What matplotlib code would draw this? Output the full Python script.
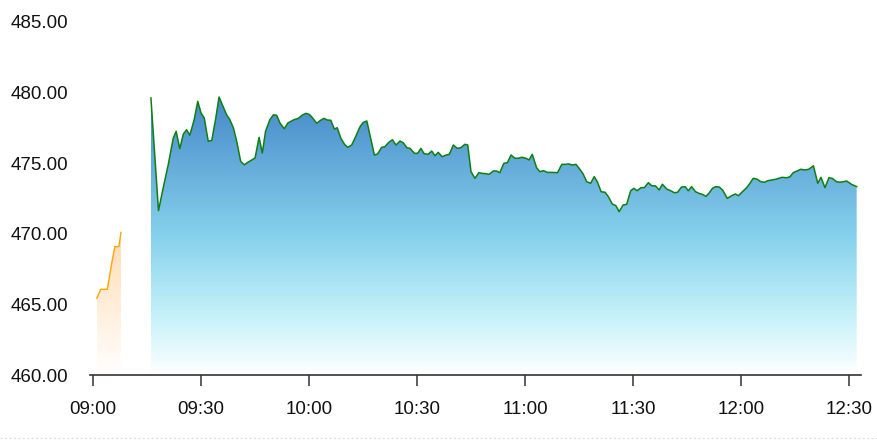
import numpy as np
import matplotlib
matplotlib.use("Agg")
import matplotlib.pyplot as plt
from matplotlib.colors import LinearSegmentedColormap
from matplotlib.lines import Line2D

# minutes after 09:00
pre_t = [1.2, 2.3, 4.1, 5.4, 6.2, 7.3, 7.9]
pre_v = [465.43, 466.07, 466.07, 468.02, 469.09, 469.09, 470.10]

main_t = [16.2, 18.3, 19.6, 21.0, 22.4, 23.2, 24.2, 25.2, 26.1, 27.0, 28.2, 29.2, 30.1, 31.0,
          32.1, 33.1, 34.2, 35.1, 36.3, 37.2, 38.1, 39.1, 40.0, 41.1, 42.1, 43.2, 44.2, 45.1,
          46.2, 47.1, 48.0, 49.2, 50.2, 51.1, 52.0, 53.2, 54.2, 55.7, 57.1, 58.2, 59.2, 60.1,
          61.0, 62.2, 63.1, 64.2, 65.1, 66.1, 67.1, 67.9, 68.9, 69.9, 70.8, 71.9, 73.0, 74.2,
          75.1, 76.1, 78.2, 79.1, 80.2, 81.1, 82.2, 83.2, 84.2, 85.3, 86.2, 87.2, 88.1, 89.3,
          90.2, 91.1, 92.0, 93.1, 94.1, 95.0, 95.9, 97.0, 98.1, 99.0, 100.1, 101.2, 102.2,
          103.3, 104.1, 105.0, 106.1, 107.2, 108.1, 109.1, 110.0, 111.2, 112.1, 113.0, 114.1,
          115.1, 116.1, 117.2, 118.1, 119.1, 120.2, 121.1, 122.0, 123.2, 124.1, 125.1, 126.2,
          127.4, 129.0, 130.2, 131.2, 132.1, 133.1, 134.1, 135.0, 136.1, 137.1, 138.2, 139.2,
          140.1, 141.1, 142.2, 143.1, 144.2, 145.2, 146.1, 147.2, 148.2, 149.3, 150.2, 151.1,
          152.2, 153.1, 154.2, 155.1, 156.2, 157.2, 158.1, 159.3, 160.4, 161.4, 162.3, 163.4,
          164.4, 165.3, 166.2, 167.3, 168.3, 169.2, 170.2, 171.1, 172.0, 172.9, 173.9, 174.8,
          176.1, 177.2, 178.3, 179.2, 180.3, 181.5, 182.4, 183.3, 184.3, 185.4, 186.4, 187.3,
          188.4, 189.5, 190.4, 191.3, 192.6, 193.5, 194.4, 195.6, 196.5, 197.6, 198.7, 200.0,
          201.2, 202.1, 203.2, 204.3, 205.2, 206.4, 207.3, 208.3, 209.2, 210.6, 212.0]
main_v = [479.62, 471.64, 473.24, 474.89, 476.78, 477.26, 476.03, 477.07, 477.37, 476.98,
          478.08, 479.38, 478.56, 478.20, 476.55, 476.62, 478.20, 479.69, 478.96, 478.43,
          478.08, 477.49, 476.55, 475.13, 474.89, 475.08, 475.23, 475.37, 476.83, 475.72,
          477.26, 478.08, 478.43, 478.39, 477.85, 477.44, 477.85, 478.06, 478.18, 478.41,
          478.53, 478.46, 478.22, 477.83, 478.01, 478.18, 478.06, 478.04, 477.42, 477.51,
          476.76, 476.34, 476.12, 476.29, 476.88, 477.58, 477.89, 477.99, 475.58, 475.65,
          476.12, 476.17, 476.48, 476.66, 476.29, 476.57, 476.45, 476.10, 476.05, 475.70,
          475.70, 476.05, 475.67, 475.63, 475.86, 475.53, 475.77, 475.46, 475.58, 475.63,
          476.29, 476.05, 476.10, 476.34, 476.29, 474.40, 473.93, 474.33, 474.28, 474.26,
          474.21, 474.45, 474.45, 474.33, 474.99, 475.04, 475.58, 475.35, 475.35, 475.42,
          475.35, 475.23, 475.63, 474.68, 474.40, 474.47, 474.35, 474.35, 474.33, 474.92,
          474.92, 474.95, 474.87, 474.92, 474.64, 474.24, 473.69, 473.58, 474.05, 473.65,
          472.98, 472.94, 472.63, 472.11, 471.99, 471.57, 472.04, 472.09, 473.05, 473.22,
          473.05, 473.27, 473.27, 473.62, 473.41, 473.39, 473.10, 473.51, 473.17, 473.05,
          472.91, 472.94, 473.31, 473.34, 473.05, 473.34, 472.98, 472.86, 472.79, 472.65,
          472.90, 473.22, 473.34, 473.31, 473.10, 472.51, 472.68, 472.82, 472.70, 472.98,
          473.27, 473.58, 473.93, 473.88, 473.69, 473.65, 473.76, 473.81, 473.86, 473.93,
          474.00, 473.97, 474.04, 474.33, 474.47, 474.57, 474.52, 474.57, 474.82, 473.58,
          474.00, 473.27, 473.97, 473.93, 473.69, 473.65, 473.69, 473.74, 473.50, 473.34]

x_ticks = [0, 30, 60, 90, 120, 150, 180, 210]
x_labels = ["09:00", "09:30", "10:00", "10:30", "11:00", "11:30", "12:00", "12:30"]
y_ticks = [460, 465, 470, 475, 480, 485]

W, H = 877, 441
fig = plt.figure(figsize=(W / 100, H / 100), dpi=100)
plt.rcParams['font.family'] = ['Liberation Sans', 'DejaVu Sans']
ax = fig.add_axes([90 / W, (H - 375) / H, 771 / W, (375 - 22) / H])
ax.set_xlim(-0.7, 213.2)
ax.set_ylim(460, 485)
ymin = 460


def gradient_area(t, v, colors, line_color, lw, z):
    poly = ax.fill_between(t, v, ymin, color='none', linewidth=0, zorder=z)
    cmap = LinearSegmentedColormap.from_list('g', colors)
    grad = np.linspace(0, 1, 256).reshape(-1, 1)
    im = ax.imshow(grad, cmap=cmap, aspect='auto',
                   extent=[min(t), max(t), ymin, max(v)], origin='upper',
                   zorder=z, interpolation='bilinear')
    im.set_clip_path(poly.get_paths()[0], transform=ax.transData)
    ax.plot(t, v, color=line_color, lw=lw, zorder=z + 1, solid_joinstyle='round')


gradient_area(main_t, main_v,
              [(0.0, '#4688c9'), (0.5, '#86d1ec'), (0.8, '#c8f2fa'), (1.0, '#ffffff')],
              '#0f7f12', 1.1, 2)
gradient_area(pre_t, pre_v,
              [(0.0, '#ffdcb2'), (1.0, '#ffffff')],
              '#ffa500', 1.0, 2)
ax.set_xlim(-0.7, 213.2)
ax.set_ylim(460, 485)

for s in ['top', 'right', 'left']:
    ax.spines[s].set_visible(False)
ax.spines['bottom'].set_color('#333333')
ax.spines['bottom'].set_linewidth(1.2)

ax.set_xticks(x_ticks)
ax.set_xticklabels(x_labels)
ax.set_yticks(y_ticks)
ax.set_yticklabels([f"{y:.2f}" for y in y_ticks])
ax.tick_params(axis='x', direction='out', length=8, width=1.1, color='#333333',
               labelsize=13.5, pad=11, labelcolor='#111111')
ax.tick_params(axis='y', length=0, labelsize=13.5, pad=16, labelcolor='#111111')

fig.add_artist(Line2D([0, 1], [(H - 438) / H] * 2, transform=fig.transFigure,
                      color='#dddddd', lw=0.8, linestyle=(0, (2, 2))))

fig.savefig('out.png', dpi=100)
